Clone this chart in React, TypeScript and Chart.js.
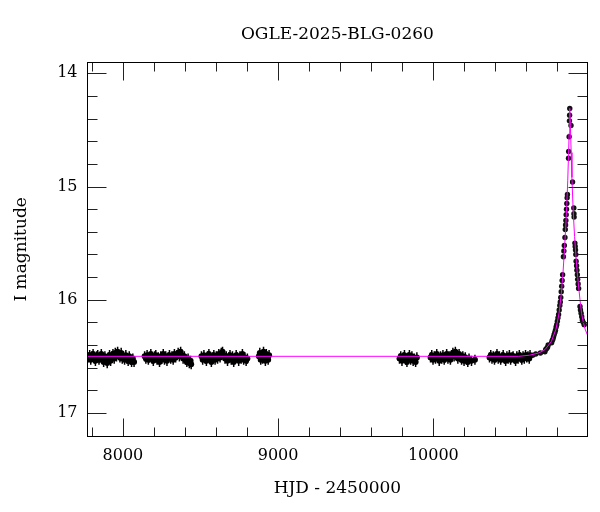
import React, { useEffect, useRef } from "react";
import { Chart, registerables } from "chart.js";

Chart.register(...registerables);

const TITLE = "OGLE-2025-BLG-0260";
const X_TITLE = "HJD - 2450000";
const Y_TITLE = "I magnitude";
const X_MIN = 7772;
const X_MAX = 10992;
const Y_MIN = 13.9;
const Y_MAX = 17.21;
const X_TICK_LABELS = [8000, 9000, 10000];
const Y_TICK_LABELS = [14, 15, 16, 17];
const X_MINOR_STEP = 200;
const Y_MINOR_STEP = 0.2;
const BASE_ERR = 0.045;
const EVENT_ERR = 0.015;
const FONT = "DejaVu Serif";

type P = [number, number];

const season1: P[] = [
  [7778, 16.51], [7786, 16.49], [7793, 16.53], [7801, 16.5], [7808, 16.48], [7816, 16.52], [7823, 16.54], [7831, 16.5],
  [7838, 16.49], [7846, 16.53], [7853, 16.51], [7861, 16.48], [7868, 16.52], [7876, 16.55], [7884, 16.5], [7891, 16.53],
  [7899, 16.56], [7906, 16.51], [7914, 16.49], [7921, 16.54], [7929, 16.5], [7936, 16.48], [7944, 16.52], [7951, 16.47],
  [7959, 16.5], [7966, 16.46], [7974, 16.49], [7981, 16.51], [7989, 16.47], [7996, 16.52], [8004, 16.5], [8011, 16.53],
  [8019, 16.49], [8026, 16.52], [8034, 16.54], [8041, 16.5], [8049, 16.53], [8056, 16.55], [8064, 16.52], [8072, 16.55],
];

const season2: P[] = [
  [8140, 16.5], [8148, 16.52], [8156, 16.49], [8164, 16.53], [8172, 16.51], [8180, 16.48], [8188, 16.52], [8196, 16.54],
  [8204, 16.5], [8212, 16.49], [8220, 16.53], [8228, 16.51], [8236, 16.55], [8244, 16.5], [8252, 16.52], [8260, 16.48],
  [8268, 16.53], [8276, 16.5], [8284, 16.54], [8292, 16.51], [8300, 16.49], [8308, 16.52], [8316, 16.5], [8324, 16.53],
  [8332, 16.48], [8340, 16.51], [8348, 16.49], [8356, 16.47], [8364, 16.5], [8372, 16.46], [8380, 16.49], [8388, 16.52],
  [8396, 16.5], [8404, 16.53], [8412, 16.55], [8420, 16.52], [8428, 16.56], [8436, 16.54], [8440, 16.57],
];

const season3: P[] = [
  [8506, 16.5], [8514, 16.53], [8522, 16.49], [8530, 16.52], [8538, 16.54], [8546, 16.5], [8554, 16.48], [8562, 16.52],
  [8570, 16.55], [8578, 16.51], [8586, 16.49], [8594, 16.53], [8602, 16.5], [8610, 16.52], [8618, 16.48], [8626, 16.51],
  [8634, 16.47], [8642, 16.46], [8650, 16.49], [8658, 16.52], [8666, 16.5], [8674, 16.54], [8682, 16.51], [8690, 16.49],
  [8698, 16.53], [8706, 16.5], [8714, 16.55], [8722, 16.52], [8730, 16.49], [8738, 16.51], [8746, 16.54], [8754, 16.5],
  [8762, 16.52], [8770, 16.48], [8778, 16.53], [8786, 16.51], [8794, 16.54], [8802, 16.52],
];

const season4: P[] = [
  [8876, 16.5], [8882, 16.47], [8888, 16.53], [8894, 16.49], [8900, 16.52], [8906, 16.46], [8912, 16.5], [8918, 16.54],
  [8924, 16.48], [8930, 16.51], [8936, 16.53], [8942, 16.49],
];

const season5: P[] = [
  [9782, 16.52], [9790, 16.5], [9798, 16.54], [9806, 16.51], [9814, 16.49], [9822, 16.53], [9830, 16.55], [9838, 16.51],
  [9846, 16.49], [9854, 16.53], [9862, 16.5], [9870, 16.54], [9878, 16.52], [9886, 16.55], [9894, 16.51],
];

const season6: P[] = [
  [9982, 16.51], [9990, 16.49], [9998, 16.53], [10006, 16.5], [10014, 16.52], [10022, 16.48], [10030, 16.51], [10038, 16.54],
  [10046, 16.5], [10054, 16.52], [10062, 16.49], [10070, 16.53], [10078, 16.51], [10086, 16.48], [10094, 16.52], [10102, 16.5],
  [10110, 16.53], [10118, 16.49], [10126, 16.47], [10134, 16.5], [10142, 16.46], [10150, 16.49], [10158, 16.52], [10166, 16.48],
  [10174, 16.51], [10182, 16.53], [10190, 16.5], [10198, 16.54], [10206, 16.51], [10214, 16.53], [10222, 16.55], [10230, 16.52],
  [10246, 16.54], [10268, 16.53],
];

const season7: P[] = [
  [10362, 16.51], [10370, 16.49], [10378, 16.52], [10386, 16.5], [10394, 16.53], [10402, 16.51], [10410, 16.48], [10418, 16.52],
  [10426, 16.5], [10434, 16.53], [10442, 16.51], [10450, 16.49], [10458, 16.52], [10466, 16.54], [10474, 16.5], [10482, 16.52],
  [10490, 16.49], [10498, 16.53], [10506, 16.51], [10514, 16.5], [10522, 16.52], [10530, 16.54], [10538, 16.5], [10546, 16.52],
  [10554, 16.49], [10562, 16.51], [10570, 16.53], [10578, 16.5], [10586, 16.52], [10594, 16.49], [10602, 16.51], [10610, 16.5],
  [10618, 16.52], [10623, 16.49],
];

const risingBranch: P[] = [
  [10640, 16.49], [10660, 16.48], [10690, 16.47], [10719, 16.46], [10724, 16.44], [10730, 16.43], [10736, 16.42], [10740, 16.4],
  [10762, 16.38], [10766, 16.36], [10770, 16.35], [10774, 16.33], [10778, 16.31], [10783, 16.29], [10787, 16.27], [10791, 16.24],
  [10795, 16.22], [10799, 16.19], [10803, 16.16], [10807, 16.13], [10811, 16.09], [10815, 16.05], [10818, 16.02], [10821, 15.98],
  [10824, 15.93], [10827, 15.88], [10830, 15.83], [10833, 15.78], [10838, 15.62], [10841, 15.57], [10844, 15.52], [10848, 15.45],
  [10850, 15.38], [10852, 15.34], [10854, 15.3], [10856, 15.25], [10858, 15.2], [10860, 15.15], [10862, 15.1], [10864, 15.07],
  [10871, 14.75], [10872, 14.69], [10875, 14.56], [10877, 14.42], [10878, 14.37], [10879, 14.31],
];

const decliningBranch: P[] = [
  [10887, 14.46], [10897, 14.96], [10905, 15.19], [10906, 15.24], [10907, 15.27], [10912, 15.5], [10914, 15.53], [10916, 15.56],
  [10918, 15.6], [10920, 15.66], [10923, 15.7], [10925, 15.74], [10928, 15.78], [10930, 15.82], [10933, 15.86], [10936, 15.9],
  [10945, 16.06], [10948, 16.09], [10952, 16.12], [10956, 16.15], [10960, 16.18], [10966, 16.2], [10972, 16.22],
];

const modelCurve: P[] = [
  [7772, 16.5], [10550, 16.5], [10620, 16.49], [10680, 16.47], [10720, 16.44], [10760, 16.37], [10790, 16.26], [10810, 16.12],
  [10825, 15.94], [10835, 15.77], [10845, 15.56], [10853, 15.36], [10860, 15.16], [10866, 14.95], [10871, 14.72], [10875, 14.53],
  [10879, 14.31], [10883, 14.46], [10888, 14.7], [10893, 14.92], [10898, 15.11], [10904, 15.29], [10910, 15.44], [10918, 15.6],
  [10926, 15.74], [10935, 15.87], [10945, 16.0], [10955, 16.12], [10965, 16.19], [10978, 16.26], [10992, 16.31],
];

const toXY = (arr: P[]) => arr.map(([x, y]) => ({ x, y }));

export default function App() {
  const ref = useRef<HTMLCanvasElement>(null);

  useEffect(() => {
    const canvas = ref.current;
    if (!canvas) return;

    const errorBars = {
      id: "errorBars",
      beforeDatasetsDraw(chart: any) {
        const { ctx, chartArea } = chart;
        const xs = chart.scales.x;
        const ys = chart.scales.y;
        ctx.save();
        ctx.beginPath();
        ctx.rect(chartArea.left, chartArea.top, chartArea.right - chartArea.left, chartArea.bottom - chartArea.top);
        ctx.clip();
        ctx.strokeStyle = "#000";
        ctx.lineWidth = 1.5;
        chart.data.datasets.forEach((ds: any) => {
          if (!ds.errorBar) return;
          ctx.beginPath();
          ds.data.forEach((p: any) => {
            const px = xs.getPixelForValue(p.x);
            ctx.moveTo(px, ys.getPixelForValue(p.y - ds.errorBar));
            ctx.lineTo(px, ys.getPixelForValue(p.y + ds.errorBar));
          });
          ctx.stroke();
        });
        ctx.restore();
      },
    };

    const frameTicks = {
      id: "frameTicks",
      afterDraw(chart: any) {
        const { ctx, chartArea } = chart;
        const xs = chart.scales.x;
        const ys = chart.scales.y;
        const L = Math.floor(chartArea.left) + 0.5;
        const R = Math.floor(chartArea.right) + 0.5;
        const T = Math.floor(chartArea.top) + 0.5;
        const B = Math.floor(chartArea.bottom) + 0.5;
        ctx.save();
        ctx.strokeStyle = "#222";
        ctx.lineWidth = 1;
        ctx.beginPath();
        const x0 = Math.ceil(X_MIN / X_MINOR_STEP) * X_MINOR_STEP;
        for (let v = x0; v <= X_MAX; v += X_MINOR_STEP) {
          const major = v % 1000 === 0;
          const len = major ? 18 : 9;
          const px = Math.round(xs.getPixelForValue(v)) + 0.5;
          ctx.moveTo(px, B);
          ctx.lineTo(px, B - len);
          ctx.moveTo(px, T);
          ctx.lineTo(px, T + len);
        }
        const nY = Math.round((Y_MAX - 14) / Y_MINOR_STEP);
        for (let i = 0; i <= nY; i++) {
          const v = 14 + i * Y_MINOR_STEP;
          if (v > Y_MAX) break;
          const major = i % 5 === 0;
          const len = major ? 19 : 10;
          const py = Math.round(ys.getPixelForValue(v)) + 0.5;
          ctx.moveTo(L, py);
          ctx.lineTo(L + len, py);
          ctx.moveTo(R, py);
          ctx.lineTo(R - len, py);
        }
        ctx.stroke();
        ctx.strokeStyle = "#000";
        ctx.strokeRect(L, T, R - L, B - T);
        ctx.restore();
      },
    };

    const chart = new Chart(canvas, {
      type: "scatter",
      data: {
        datasets: [
          {
            label: "model",
            data: toXY(modelCurve),
            showLine: true,
            borderColor: "#ff00ff",
            borderWidth: 1,
            pointRadius: 0,
            fill: false,
            tension: 0,
            order: 0,
          } as any,
          {
            label: "baseline",
            data: toXY([...season1, ...season2, ...season3, ...season4, ...season5, ...season6, ...season7]),
            pointRadius: 3,
            pointBackgroundColor: "#000",
            pointBorderWidth: 0,
            showLine: false,
            errorBar: BASE_ERR,
            order: 1,
          } as any,
          {
            label: "event",
            data: toXY([...risingBranch, ...decliningBranch]),
            pointRadius: 2.7,
            pointBackgroundColor: "#111",
            pointBorderWidth: 0,
            showLine: false,
            errorBar: EVENT_ERR,
            order: 1,
          } as any,
        ],
      },
      options: {
        animation: false,
        responsive: false,
        devicePixelRatio: 1,
        events: [],
        layout: { padding: { top: 0, right: 12.7, bottom: 0, left: 0 } },
        plugins: {
          legend: { display: false },
          tooltip: { enabled: false },
          title: {
            display: true,
            text: TITLE,
            fullSize: false,
            color: "#000",
            font: { family: FONT, size: 17, weight: "normal" },
            padding: { top: 24.8, bottom: 16.8 },
          },
        },
        scales: {
          x: {
            type: "linear",
            min: X_MIN,
            max: X_MAX,
            afterBuildTicks: (s: any) => {
              s.ticks = X_TICK_LABELS.map((v) => ({ value: v }));
            },
            afterFit: (s: any) => {
              s.height = 75.3;
            },
            grid: { display: false, drawTicks: false },
            border: { display: false },
            ticks: {
              padding: 10,
              color: "#000",
              maxRotation: 0,
              autoSkip: false,
              font: { family: FONT, size: 16 },
              callback: (v: any) => String(v),
            },
            title: {
              display: true,
              text: X_TITLE,
              color: "#000",
              font: { family: FONT, size: 17 },
              padding: { top: 0, bottom: 12.8 },
            },
          },
          y: {
            type: "linear",
            reverse: true,
            min: Y_MIN,
            max: Y_MAX,
            afterBuildTicks: (s: any) => {
              s.ticks = Y_TICK_LABELS.map((v) => ({ value: v }));
            },
            afterFit: (s: any) => {
              s.width = 87.5;
            },
            grid: { display: false, drawTicks: false },
            border: { display: false },
            ticks: {
              padding: 10,
              color: "#000",
              autoSkip: false,
              font: { family: FONT, size: 16 },
              callback: (v: any) => String(v),
            },
            title: {
              display: true,
              text: Y_TITLE,
              color: "#000",
              font: { family: FONT, size: 17 },
              padding: { top: 11.8, bottom: 0 },
            },
          },
        },
      } as any,
      plugins: [errorBars, frameTicks],
    });

    return () => chart.destroy();
  }, []);

  return (
    <div style={{ position: "absolute", left: 0, top: 0, width: 600, height: 512, background: "#fff" }}>
      <canvas ref={ref} width={600} height={512} style={{ display: "block", width: 600, height: 512 }} />
    </div>
  );
}
